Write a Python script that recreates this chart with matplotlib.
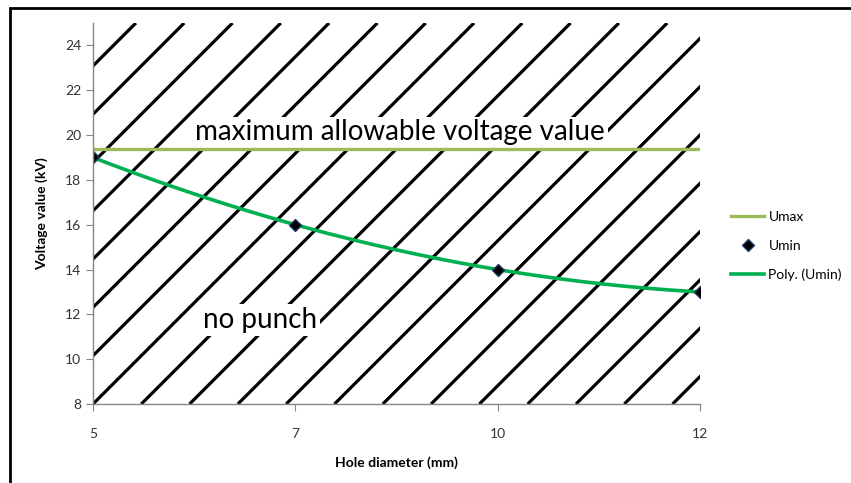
import numpy as np
import matplotlib
matplotlib.use("Agg")
import matplotlib.pyplot as plt

# data
hole_diam = ["5", "7", "10", "12"]
u_min = [19, 16, 14, 13]
u_max = [19.4, 19.4, 19.4, 19.4]

plt.rcParams['font.family'] = ['Lato', 'DejaVu Sans']

fig = plt.figure(figsize=(8.51, 4.83), dpi=100)
W, H = 851, 483

# outer frame (only top and left are visible in the crop)
fig.add_artist(plt.Line2D([10 / W, 10 / W, 1.0], [0.0, 1 - 8 / H, 1 - 8 / H],
                          transform=fig.transFigure, color='black', lw=2.0,
                          solid_joinstyle='miter'))

# plot area in pixels (left, top, right, bottom)
px0, py0, px1, py1 = 93, 23, 700, 404
ax = fig.add_axes([px0 / W, 1 - py1 / H, (px1 - px0) / W, (py1 - py0) / H])

xi = np.arange(len(hole_diam))

# background hatching, 45 degree lines in pixel space
aw, ah = px1 - px0, py1 - py0
step = 48.3
for k in range(-int(ah / step) - 1, int(aw / step) + 2):
    d = k * step
    ax.plot([d / aw, (d + ah) / aw], [0, 1], color='black', lw=2.3,
            transform=ax.transAxes, zorder=1, solid_capstyle='butt')

# Umax line
ax.plot(xi, u_max, color='#9BBB59', lw=2.4, zorder=3, label='Umax')
# Umin points
ax.plot(xi, u_min, ls='none', marker='D', ms=6, color='black',
        markeredgecolor='#1F3864', zorder=5, label='Umin')
# 2nd order polynomial trend (Excel uses 1..n as x for category axis)
coef = np.polyfit(xi + 1, u_min, 2)
xs = np.linspace(0, len(xi) - 1, 200)
ax.plot(xs, np.polyval(coef, xs + 1), color='#00B050', lw=2.6, zorder=4,
        label='Poly. (Umin)')

ax.text(1.517, 20.12, 'maximum allowable voltage value', fontsize=20,
        ha='center', va='center', zorder=2,
        bbox=dict(facecolor='white', edgecolor='none', pad=2))
ax.text(0.825, 11.75, 'no punch', fontsize=20, ha='center', va='center',
        zorder=2, bbox=dict(facecolor='white', edgecolor='none', pad=2))

ax.set_xlim(0, 3)
ax.set_ylim(8, 25)
ax.set_xticks(xi)
ax.set_xticklabels(hole_diam)
ax.set_yticks(np.arange(8, 25, 2))
for s in ['top', 'right']:
    ax.spines[s].set_visible(False)
for s in ['left', 'bottom']:
    ax.spines[s].set_color('#868686')
    ax.spines[s].set_linewidth(1.0)
    ax.spines[s].set_zorder(6)
ax.tick_params(colors='#868686', labelcolor='#333333', labelsize=10,
               length=5, direction='out')
ax.tick_params(axis='x', pad=12)
ax.set_xlabel('Hole diameter (mm)', fontsize=10, fontweight='bold', labelpad=12)
ax.set_ylabel('Voltage value (kV)', fontsize=10, fontweight='bold', labelpad=12)

leg = ax.legend(loc='center left', bbox_to_anchor=(731 / W, 1 - 246 / H),
                bbox_transform=fig.transFigure, frameon=False, fontsize=10,
                handlelength=2.4, labelspacing=1.2, handletextpad=0.3,
                borderpad=0, borderaxespad=0)

fig.savefig('out.png', dpi=100)
